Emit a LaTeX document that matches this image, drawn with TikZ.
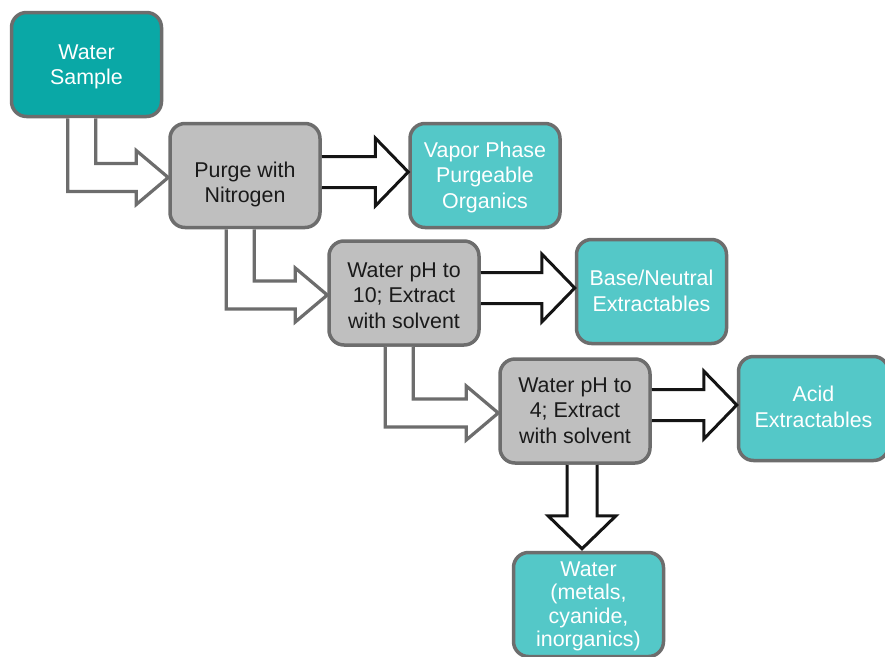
\documentclass[tikz,border=0pt]{standalone}
\usepackage{xcolor}
\usepackage{fontspec}
\setmainfont{Liberation Sans}
\usetikzlibrary{calc}

\definecolor{sampleteal}{HTML}{0AA8A6}
\definecolor{productteal}{HTML}{54C8C8}
\definecolor{stagegray}{HTML}{BFBFBF}
\definecolor{boxborder}{HTML}{6D6D6D}
\definecolor{textdark}{HTML}{1A1A1A}

\begin{document}
\begin{tikzpicture}[x=1pt, y=-1pt,
  box/.style={draw=boxborder, line width=3.5pt, rounded corners=15pt,
    minimum width=150pt, minimum height=104pt, inner sep=0pt, align=center,
    text depth=0pt, font=\fontsize{21.4}{25.5}\selectfont},
  feed/.style={box, fill=sampleteal, text=white},
  stage/.style={box, fill=stagegray, text=textdark},
  product/.style={box, fill=productteal, text=white},
  bentarrow/.style={draw=boxborder, fill=white, line width=3.2pt, line join=miter},
  blockarrow/.style={draw=black!92, fill=white, line width=3pt, line join=miter}]
\useasboundingbox (0,0) rectangle (885,656);

% boxes
\node[feed, text height=40.6pt] (sample) at (86.5,64.5) {Water\\Sample};
\node[stage, text height=54pt] (purge) at (245,175.5) {Purge with\\Nitrogen};
\node[product, text height=65.6pt] (vapor) at (485,175.5) {Vapor Phase\\Purgeable\\Organics};
\node[stage, text height=70pt] (ph10) at (404,293) {Water pH to\\10; Extract\\with solvent};
\node[product, text height=39pt] (base) at (651.5,291.5) {Base/Neutral\\Extractables};
\node[stage, text height=64pt] (ph4) at (575,411) {Water pH to\\4; Extract\\with solvent};
\node[product, text height=37.6pt] (acid) at (813.5,408.5) {Acid\\Extractables};
\node[product, text height=84pt, font=\fontsize{21.4}{23.5}\selectfont] (water) at (588.5,604.5)
  {Water\\(metals,\\cyanide,\\inorganics)};

% bent arrows down the chain
\foreach \src/\dst in {sample/purge, purge/ph10, ph10/ph4}
  \draw[bentarrow] ($(\src.south west)+(58,0)$) |- ($(\dst.west)+(-32,16)$)
    -- ++(0,13) -- ($(\dst.west)+(0,2)$) -- ($(\dst.west)+(-32,-25)$) -- ++(0,13)
    -| ($(\src.south west)+(86,0)$);

% products
\foreach \src/\dst in {purge/vapor, ph10/base, ph4/acid}
  \draw[blockarrow] ($(\src.east |- \dst.west)+(0,-19)$) -- ($(\dst.west)+(-33,-19)$)
    -- ($(\dst.west)+(-33,-37.5)$) -- ($(\dst.west)+(0,-3.5)$)
    -- ($(\dst.west)+(-33,30.5)$) -- ($(\dst.west)+(-33,12)$)
    -- ($(\src.east |- \dst.west)+(0,12)$);

\draw[blockarrow] ($(ph4.south)+(-8,0)$) -- ($(ph4.south)+(-8,51)$) -- ++(-19,0)
  -- ($(water.north)+(-6.5,-2)$) -- ($(ph4.south)+(41,51)$) -- ++(-19,0)
  -- ($(ph4.south)+(22,0)$);
\end{tikzpicture}
\end{document}
